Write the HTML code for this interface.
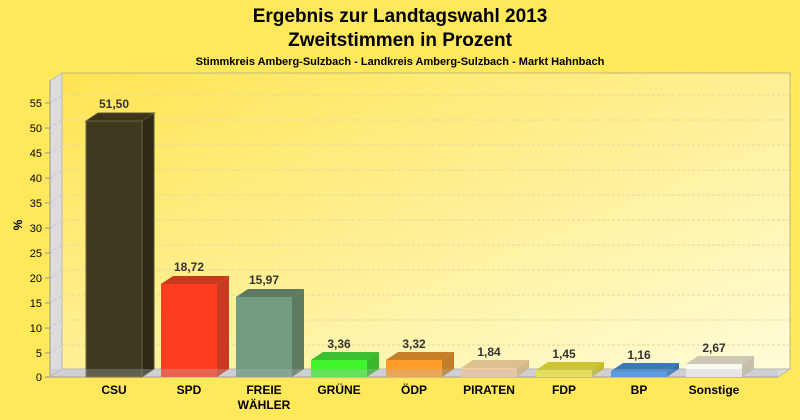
<!DOCTYPE html>
<html><head><meta charset="utf-8"><style>body{margin:0;background:#ffe860}svg{display:block}text{font-family:"Liberation Sans",sans-serif}</style></head><body>
<svg width="800" height="420" viewBox="0 0 800 420" xmlns="http://www.w3.org/2000/svg">
<defs>
<linearGradient id="bg" x1="0" y1="0" x2="1" y2="1"><stop offset="0" stop-color="#ffe452"/><stop offset="1" stop-color="#fffcd8"/></linearGradient>
</defs>
<rect width="800" height="420" fill="#ffe85a"/>
<text x="400" y="22" font-size="19" font-weight="bold" text-anchor="middle">Ergebnis zur Landtagswahl 2013</text>
<text x="400" y="46" font-size="19" font-weight="bold" text-anchor="middle">Zweitstimmen in Prozent</text>
<text x="400" y="65" font-size="11" font-weight="bold" text-anchor="middle">Stimmkreis Amberg-Sulzbach - Landkreis Amberg-Sulzbach - Markt Hahnbach</text>
<rect x="62" y="73" width="728" height="296" fill="url(#bg)" stroke="#c0b880" stroke-width="1"/>
<polygon points="50,81 62,73 62,369 50,377" fill="#dcdcdc" stroke="#b8b8b8"/>
<g stroke="#e4d8a0" stroke-dasharray="3,2" stroke-width="1">
<line x1="62" y1="95" x2="790" y2="95"/><line x1="62" y1="120" x2="790" y2="120"/><line x1="62" y1="145" x2="790" y2="145"/><line x1="62" y1="170" x2="790" y2="170"/><line x1="62" y1="195" x2="790" y2="195"/><line x1="62" y1="220" x2="790" y2="220"/><line x1="62" y1="245" x2="790" y2="245"/><line x1="62" y1="270" x2="790" y2="270"/><line x1="62" y1="295" x2="790" y2="295"/><line x1="62" y1="320" x2="790" y2="320"/><line x1="62" y1="345" x2="790" y2="345"/>
</g>
<g stroke="#c8c8c8" stroke-dasharray="3,2"><line x1="50" y1="103" x2="62" y2="95"/><line x1="50" y1="128" x2="62" y2="120"/><line x1="50" y1="153" x2="62" y2="145"/><line x1="50" y1="178" x2="62" y2="170"/><line x1="50" y1="203" x2="62" y2="195"/><line x1="50" y1="228" x2="62" y2="220"/><line x1="50" y1="253" x2="62" y2="245"/><line x1="50" y1="278" x2="62" y2="270"/><line x1="50" y1="303" x2="62" y2="295"/><line x1="50" y1="328" x2="62" y2="320"/><line x1="50" y1="353" x2="62" y2="345"/></g>
<polygon points="50,377 62,369 790,369 778,377" fill="#dadada" stroke="#b8b8b8"/>
<g stroke="#999"><line x1="50" y1="81" x2="50" y2="377"/>
<line x1="45" y1="103" x2="50" y2="103"/><line x1="45" y1="128" x2="50" y2="128"/><line x1="45" y1="153" x2="50" y2="153"/><line x1="45" y1="178" x2="50" y2="178"/><line x1="45" y1="203" x2="50" y2="203"/><line x1="45" y1="228" x2="50" y2="228"/><line x1="45" y1="253" x2="50" y2="253"/><line x1="45" y1="278" x2="50" y2="278"/><line x1="45" y1="303" x2="50" y2="303"/><line x1="45" y1="328" x2="50" y2="328"/><line x1="45" y1="353" x2="50" y2="353"/><line x1="45" y1="377" x2="50" y2="377"/><line x1="50" y1="377" x2="778" y2="377"/></g>
<g font-size="11" text-anchor="end">
<text x="42" y="107">55</text><text x="42" y="132">50</text><text x="42" y="157">45</text><text x="42" y="182">40</text><text x="42" y="207">35</text><text x="42" y="232">30</text><text x="42" y="257">25</text><text x="42" y="282">20</text><text x="42" y="307">15</text><text x="42" y="332">10</text><text x="42" y="357">5</text><text x="42" y="381">0</text>
</g>
<text x="22" y="225" font-size="12" font-weight="bold" text-anchor="middle" transform="rotate(-90 22 225)">%</text>
<g stroke-width="1">
<polygon points="86,121 98,113 154,113 142,121" fill="#3a3418" stroke="#5a5430"/><polygon points="142,121 154,113 154,369 142,377" fill="#2e2a14" stroke="#5a5430"/><rect x="86" y="121" width="56" height="256" fill="#3f3a1f" stroke="#6a6440"/>
<polygon points="161,284 173,276 229,276 217,284" fill="#c83a20"/><polygon points="217,284 229,276 229,369 217,377" fill="#c83a22"/><rect x="161" y="284" width="56" height="93" fill="#ff3d20"/>
<polygon points="236,297 248,289 304,289 292,297" fill="#5c7a62"/><polygon points="292,297 304,289 304,369 292,377" fill="#5e7a60"/><rect x="236" y="297" width="56" height="80" fill="#729c80"/>
<polygon points="311,360 323,352 379,352 367,360" fill="#3cc030"/><polygon points="367,360 379,352 379,369 367,377" fill="#3cb82c"/><rect x="311" y="360" width="56" height="17" fill="#40f52c"/>
<polygon points="386,360 398,352 454,352 442,360" fill="#c88028"/><polygon points="442,360 454,352 454,369 442,377" fill="#c07c28"/><rect x="386" y="360" width="56" height="17" fill="#ff9c28"/>
<polygon points="461,368 473,360 529,360 517,368" fill="#dcc090"/><polygon points="517,368 529,360 529,369 517,377" fill="#d4b888"/><rect x="461" y="368" width="56" height="9" fill="#f8cca0"/>
<polygon points="536,370 548,362 604,362 592,370" fill="#ccc430"/><polygon points="592,370 604,362 604,369 592,377" fill="#c4bc2c"/><rect x="536" y="370" width="56" height="7" fill="#f4f030"/>
<polygon points="611,371 623,363 679,363 667,371" fill="#3878b8"/><polygon points="667,371 679,363 679,369 667,377" fill="#3070b0"/><rect x="611" y="371" width="56" height="6" fill="#3090f0"/>
<polygon points="686,364 698,356 754,356 742,364" fill="#ccc8b4"/><polygon points="742,364 754,356 754,369 742,377" fill="#c4c0ac"/><rect x="686" y="364" width="56" height="13" fill="#fbfaf2"/>
</g>
<rect x="50" y="369" width="728" height="8" fill="#b8b8c8" opacity="0.3"/>
<g font-size="12" font-weight="bold" text-anchor="middle" fill="#333">
<text x="114" y="108">51,50</text><text x="189" y="271">18,72</text><text x="264" y="284">15,97</text><text x="339" y="348">3,36</text><text x="414" y="348">3,32</text><text x="489" y="356">1,84</text><text x="564" y="358">1,45</text><text x="639" y="359">1,16</text><text x="714" y="352">2,67</text>
</g>
<g font-size="12" font-weight="bold" text-anchor="middle">
<text x="114" y="394">CSU</text><text x="189" y="394">SPD</text><text x="264" y="394">FREIE</text><text x="264" y="409">WÄHLER</text><text x="339" y="394">GRÜNE</text><text x="414" y="394">ÖDP</text><text x="489" y="394">PIRATEN</text><text x="564" y="394">FDP</text><text x="639" y="394">BP</text><text x="714" y="394">Sonstige</text>
</g>
</svg>
</body></html>
